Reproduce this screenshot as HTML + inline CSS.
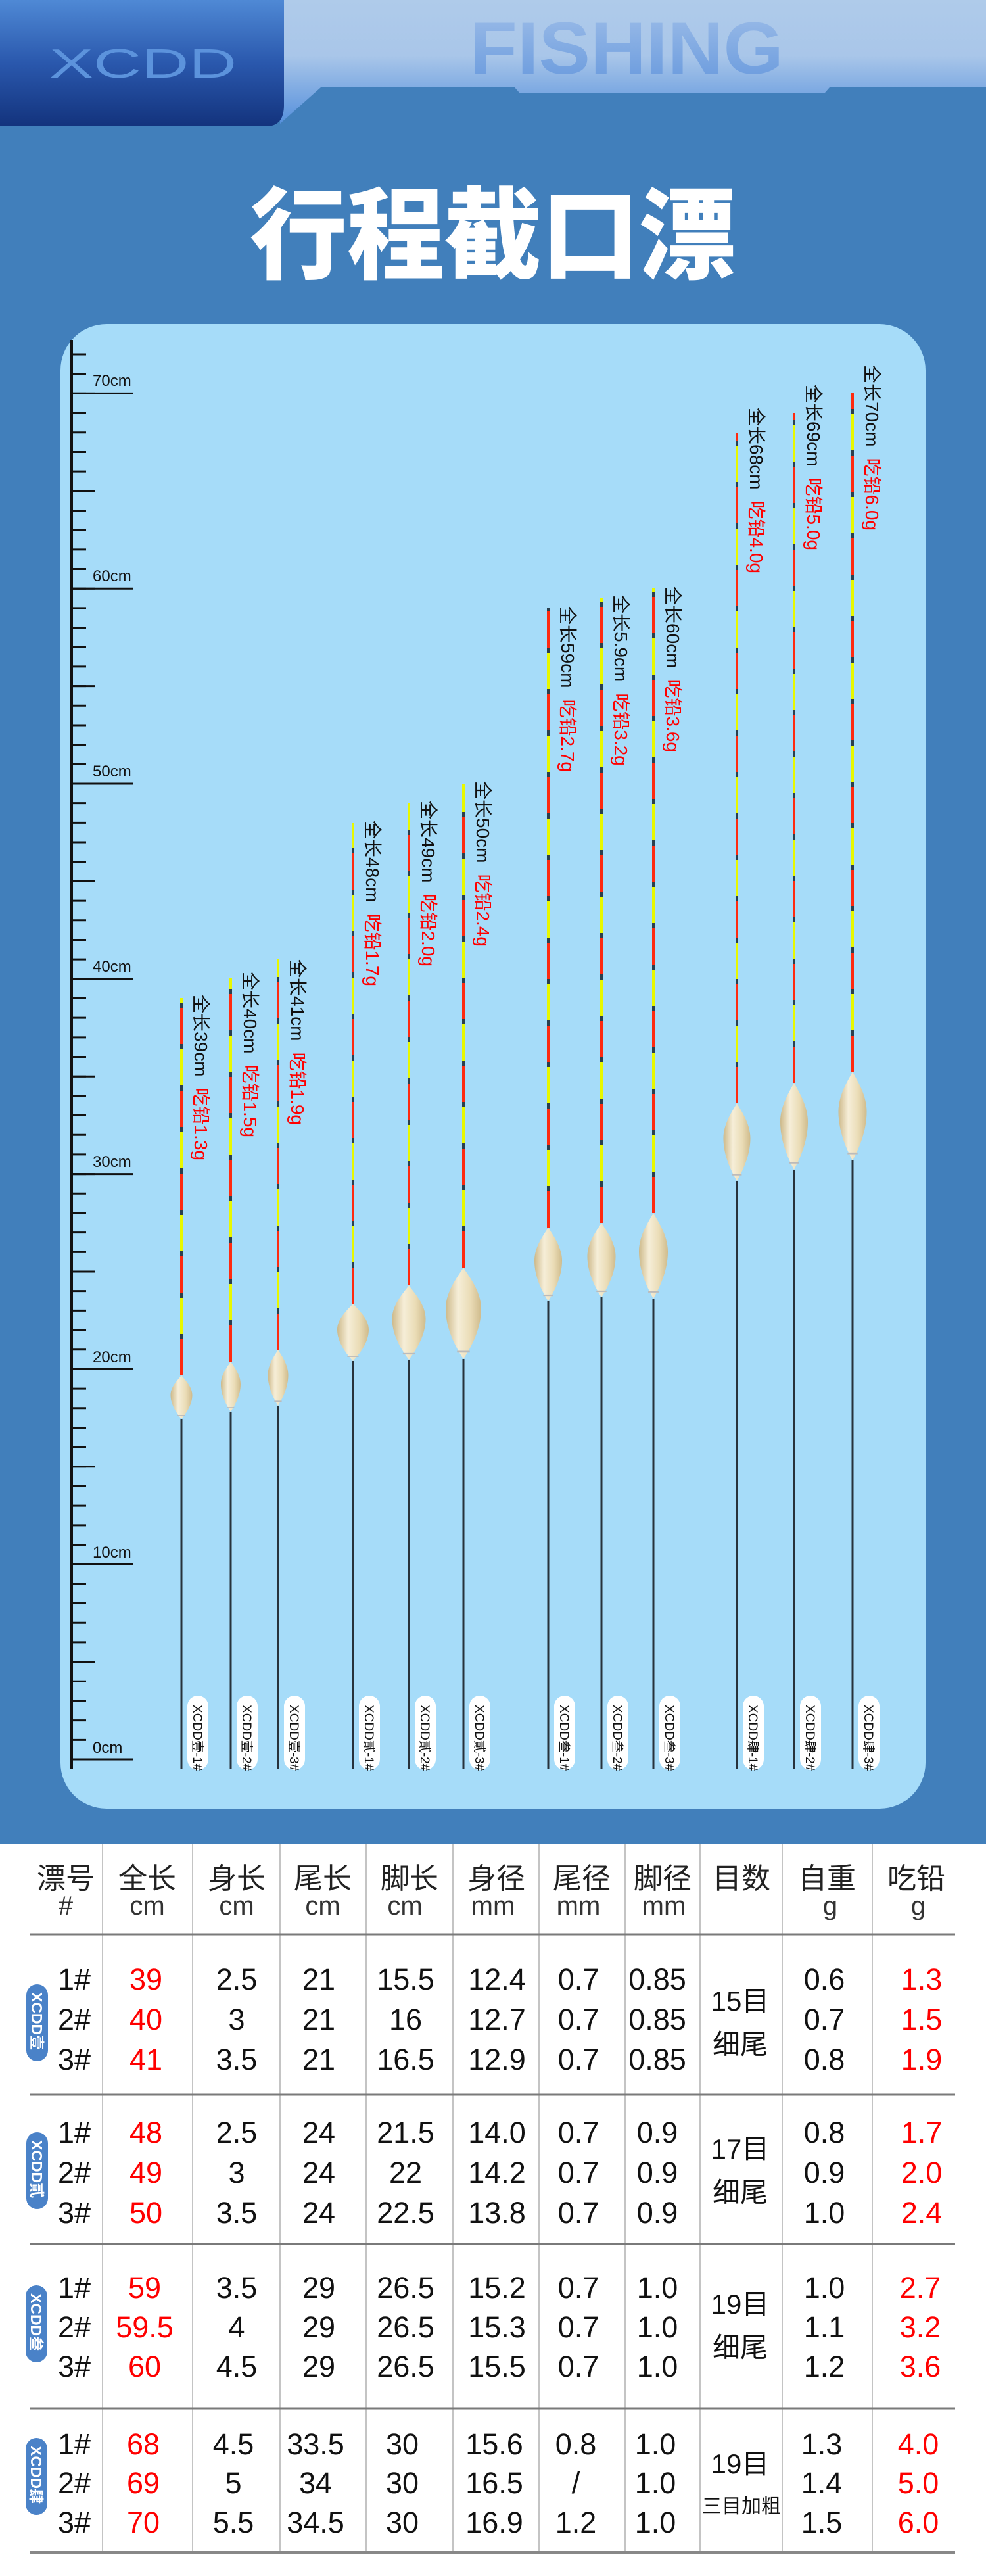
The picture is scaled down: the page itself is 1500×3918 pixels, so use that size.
<!DOCTYPE html>
<html><head><meta charset="utf-8"><style>
html,body{margin:0;padding:0;background:#417fbb;}
svg{display:block;}
.t{font-family:"Liberation Sans","Noto Sans CJK SC",sans-serif;}
</style></head><body>
<svg width="1500" height="3918" viewBox="0 0 1500 3918" xmlns="http://www.w3.org/2000/svg" class="t">
<defs>
<linearGradient id="lb" x1="0" y1="0" x2="0" y2="1"><stop offset="0" stop-color="#afcbea"/><stop offset="0.45" stop-color="#a9c6e9"/><stop offset="1" stop-color="#5690dc"/></linearGradient>
<linearGradient id="db" x1="0" y1="0" x2="0" y2="1"><stop offset="0" stop-color="#4f89d5"/><stop offset="0.5" stop-color="#2a58ad"/><stop offset="1" stop-color="#13337d"/></linearGradient>
<linearGradient id="fg" x1="0" y1="0" x2="0" y2="1"><stop offset="0" stop-color="#9dbde8"/><stop offset="1" stop-color="#6698dd"/></linearGradient>
<linearGradient id="bg" x1="0" y1="0" x2="1" y2="0"><stop offset="0" stop-color="#cdb98a"/><stop offset="0.35" stop-color="#f6eed8"/><stop offset="0.7" stop-color="#eadcb6"/><stop offset="1" stop-color="#cfbb8c"/></linearGradient>
<symbol id="b" viewBox="0 0 100 100" preserveAspectRatio="none">
<path d="M50,0 C62,8 100,25 100,45 C100,68 70,88 50,100 C30,88 0,68 0,45 C0,25 38,8 50,0Z" fill="url(#bg)"/>
<rect x="32" y="91" width="36" height="2" fill="#bbb"/>
</symbol>
</defs>
<rect width="1500" height="3918" fill="#417fbb"/>
<polygon points="430,0 1500,0 1500,133 1262,133 1255,141 790,141 783,133 488,133 426,188" fill="url(#lb)"/>
<path d="M0,0 H432 V160 Q432,192 405,192 H0Z" fill="url(#db)"/>
<text x="75" y="118" font-size="62" fill="#5c93dc" textLength="285" lengthAdjust="spacingAndGlyphs">XCDD</text>
<text x="715" y="112" font-size="112" font-weight="bold" fill="url(#fg)" textLength="477" lengthAdjust="spacingAndGlyphs">FISHING</text>
<text x="750" y="412" font-size="152" font-weight="900" fill="#fff" text-anchor="middle" textLength="740" lengthAdjust="spacingAndGlyphs" style="font-family:'Noto Sans CJK SC',sans-serif">行程截口漂</text>
<rect x="92" y="493" width="1316" height="2258" rx="70" fill="#a6dcf9"/>
<line x1="109" y1="517" x2="109" y2="2690" stroke="#111" stroke-width="4"/>
<line x1="120" y1="2677.5" x2="120" y2="525" stroke="#111" stroke-width="22" stroke-dasharray="3 26.68"/>
<line x1="126.5" y1="2677.5" x2="126.5" y2="525" stroke="#111" stroke-width="35" stroke-dasharray="3 145.4"/>
<line x1="156" y1="2677.5" x2="156" y2="525" stroke="#111" stroke-width="94" stroke-dasharray="3 293.8"/>
<g font-size="24" fill="#111">
<text x="141" y="2666">0cm</text><text x="141" y="2369">10cm</text><text x="141" y="2072">20cm</text><text x="141" y="1775">30cm</text><text x="141" y="1478">40cm</text><text x="141" y="1181">50cm</text><text x="141" y="884">60cm</text><text x="141" y="587">70cm</text>
</g>
<g stroke-width="4" fill="none">
<g stroke="#ff2a10">
<path d="M276,2092V1518M351,2071V1488M423,2053V1458M537,1983V1251M622,1955V1222M705,1928V1192M834,1867V925M915,1860V910M994,1845V895M1121,1678V658M1208,1647V628M1297,1630V598"/>
</g>
<g stroke="#e8f800" stroke-dasharray="0 63 55 8">
<path d="M276,2092V1518M351,2071V1488M423,2053V1458M537,1983V1251M622,1955V1222M705,1928V1192M834,1867V925M915,1860V910M994,1845V895M1121,1678V658M1208,1647V628M1297,1630V598"/>
</g>
<g stroke="#2b3f4d" stroke-dasharray="8 55" stroke-dashoffset="8">
<path d="M276,2092V1518M351,2071V1488M423,2053V1458M537,1983V1251M622,1955V1222M705,1928V1192M834,1867V925M915,1860V910M994,1845V895M1121,1678V658M1208,1647V628M1297,1630V598"/>
</g>
<g stroke="#27323c" stroke-width="3">
<path d="M276,2158V2690M351,2147V2690M423,2138V2690M537,2070V2690M622,2068V2690M705,2067V2690M834,1979V2690M915,1973V2690M994,1975V2690M1121,1796V2690M1208,1779V2690M1297,1765V2690"/>
</g>
</g>
<use href="#b" x="259.5" y="2092" width="33" height="66"/>
<use href="#b" x="336" y="2071" width="30" height="76"/>
<use href="#b" x="407.5" y="2053" width="31" height="85"/>
<use href="#b" x="513" y="1983" width="48" height="87"/>
<use href="#b" x="596.5" y="1955" width="51" height="113"/>
<use href="#b" x="678" y="1928" width="54" height="139"/>
<use href="#b" x="813" y="1867" width="42" height="112"/>
<use href="#b" x="893.5" y="1860" width="43" height="113"/>
<use href="#b" x="972" y="1845" width="44" height="130"/>
<use href="#b" x="1100.5" y="1678" width="41" height="118"/>
<use href="#b" x="1187" y="1647" width="42" height="132"/>
<use href="#b" x="1275.5" y="1630" width="43" height="135"/>
<g font-size="28" fill="#111">
<text transform="translate(296,1513) rotate(90)">全长39cm<tspan fill="#f00" dx="17">吃铅1.3g</tspan></text>
<text transform="translate(371,1478) rotate(90)">全长40cm<tspan fill="#f00" dx="17">吃铅1.5g</tspan></text>
<text transform="translate(443,1459) rotate(90)">全长41cm<tspan fill="#f00" dx="17">吃铅1.9g</tspan></text>
<text transform="translate(557,1248) rotate(90)">全长48cm<tspan fill="#f00" dx="17">吃铅1.7g</tspan></text>
<text transform="translate(642,1218) rotate(90)">全长49cm<tspan fill="#f00" dx="17">吃铅2.0g</tspan></text>
<text transform="translate(725,1188) rotate(90)">全长50cm<tspan fill="#f00" dx="17">吃铅2.4g</tspan></text>
<text transform="translate(854,922) rotate(90)">全长59cm<tspan fill="#f00" dx="17">吃铅2.7g</tspan></text>
<text transform="translate(935,905) rotate(90)">全长5.9cm<tspan fill="#f00" dx="17">吃铅3.2g</tspan></text>
<text transform="translate(1014,892) rotate(90)">全长60cm<tspan fill="#f00" dx="17">吃铅3.6g</tspan></text>
<text transform="translate(1141,620) rotate(90)">全长68cm<tspan fill="#f00" dx="17">吃铅4.0g</tspan></text>
<text transform="translate(1228,585) rotate(90)">全长69cm<tspan fill="#f00" dx="17">吃铅5.0g</tspan></text>
<text transform="translate(1317,555) rotate(90)">全长70cm<tspan fill="#f00" dx="17">吃铅6.0g</tspan></text>
</g>
<g fill="#fff">
<rect x="285" y="2579" width="32" height="113" rx="16"/><rect x="360" y="2579" width="32" height="113" rx="16"/><rect x="432" y="2579" width="32" height="113" rx="16"/>
<rect x="546" y="2579" width="32" height="113" rx="16"/><rect x="631" y="2579" width="32" height="113" rx="16"/><rect x="714" y="2579" width="32" height="113" rx="16"/>
<rect x="843" y="2579" width="32" height="113" rx="16"/><rect x="924" y="2579" width="32" height="113" rx="16"/><rect x="1003" y="2579" width="32" height="113" rx="16"/>
<rect x="1130" y="2579" width="32" height="113" rx="16"/><rect x="1217" y="2579" width="32" height="113" rx="16"/><rect x="1306" y="2579" width="32" height="113" rx="16"/>
</g>
<g font-size="19" fill="#111">
<text transform="translate(294,2593) rotate(90)">XCDD壹-1#</text><text transform="translate(369,2593) rotate(90)">XCDD壹-2#</text><text transform="translate(441,2593) rotate(90)">XCDD壹-3#</text>
<text transform="translate(555,2593) rotate(90)">XCDD貳-1#</text><text transform="translate(640,2593) rotate(90)">XCDD貳-2#</text><text transform="translate(723,2593) rotate(90)">XCDD貳-3#</text>
<text transform="translate(852,2593) rotate(90)">XCDD叁-1#</text><text transform="translate(933,2593) rotate(90)">XCDD叁-2#</text><text transform="translate(1012,2593) rotate(90)">XCDD叁-3#</text>
<text transform="translate(1139,2593) rotate(90)">XCDD肆-1#</text><text transform="translate(1226,2593) rotate(90)">XCDD肆-2#</text><text transform="translate(1315,2593) rotate(90)">XCDD肆-3#</text>
</g>
<rect x="0" y="2805" width="1500" height="1113" fill="#fff"/>
<g stroke="#b0b0b0" stroke-width="1.5">
<path d="M156,2805V3882M293,2805V3882M426,2805V3882M557,2805V3882M689,2805V3882M820,2805V3882M951,2805V3882M1065,2805V3882M1190,2805V3882M1327,2805V3882"/>
</g>
<g stroke="#7a7a7a" stroke-width="3"><path d="M45,2942H1453M45,3186H1453M45,3413H1453M45,3663H1453"/></g>
<path d="M45,3882H1453" stroke="#888" stroke-width="4"/>
<g font-size="44" fill="#222" text-anchor="middle">
<text x="100" y="2872">漂号</text><text x="224" y="2872">全长</text><text x="360" y="2872">身长</text><text x="491" y="2872">尾长</text><text x="623" y="2872">脚长</text><text x="755" y="2872">身径</text><text x="885" y="2872">尾径</text><text x="1008" y="2872">脚径</text><text x="1128" y="2872">目数</text><text x="1258" y="2872">自重</text><text x="1394" y="2872">吃铅</text>
</g>
<g font-size="40" fill="#333" text-anchor="middle">
<text x="100" y="2912">#</text><text x="224" y="2912">cm</text><text x="360" y="2912">cm</text><text x="491" y="2912">cm</text><text x="616" y="2912">cm</text><text x="750" y="2912">mm</text><text x="880" y="2912">mm</text><text x="1010" y="2912">mm</text><text x="1263" y="2912">g</text><text x="1397" y="2912">g</text>
</g>
<g fill="#4a82c8">
<rect x="40" y="3018" width="33" height="117" rx="16.5"/><rect x="40" y="3243" width="33" height="117" rx="16.5"/><rect x="39" y="3476" width="33" height="117" rx="16.5"/><rect x="39" y="3708" width="33" height="117" rx="16.5"/>
</g>
<g font-size="23" font-weight="bold" fill="#fff">
<text transform="translate(48,3030) rotate(90)">XCDD壹</text><text transform="translate(48,3255) rotate(90)">XCDD貳</text><text transform="translate(47,3488) rotate(90)">XCDD叁</text><text transform="translate(47,3720) rotate(90)">XCDD肆</text>
</g>
<g font-size="45" fill="#111" text-anchor="middle">
<text x="113" y="3026">1#</text><text x="360" y="3026">2.5</text><text x="485" y="3026">21</text><text x="617" y="3026">15.5</text><text x="756" y="3026">12.4</text><text x="880" y="3026">0.7</text><text x="1000" y="3026">0.85</text><text x="1254" y="3026">0.6</text>
<text x="113" y="3087">2#</text><text x="360" y="3087">3</text><text x="485" y="3087">21</text><text x="617" y="3087">16</text><text x="756" y="3087">12.7</text><text x="880" y="3087">0.7</text><text x="1000" y="3087">0.85</text><text x="1254" y="3087">0.7</text>
<text x="113" y="3148">3#</text><text x="360" y="3148">3.5</text><text x="485" y="3148">21</text><text x="617" y="3148">16.5</text><text x="756" y="3148">12.9</text><text x="880" y="3148">0.7</text><text x="1000" y="3148">0.85</text><text x="1254" y="3148">0.8</text>
<text x="113" y="3259">1#</text><text x="360" y="3259">2.5</text><text x="485" y="3259">24</text><text x="617" y="3259">21.5</text><text x="756" y="3259">14.0</text><text x="880" y="3259">0.7</text><text x="1000" y="3259">0.9</text><text x="1254" y="3259">0.8</text>
<text x="113" y="3320">2#</text><text x="360" y="3320">3</text><text x="485" y="3320">24</text><text x="617" y="3320">22</text><text x="756" y="3320">14.2</text><text x="880" y="3320">0.7</text><text x="1000" y="3320">0.9</text><text x="1254" y="3320">0.9</text>
<text x="113" y="3381">3#</text><text x="360" y="3381">3.5</text><text x="485" y="3381">24</text><text x="617" y="3381">22.5</text><text x="756" y="3381">13.8</text><text x="880" y="3381">0.7</text><text x="1000" y="3381">0.9</text><text x="1254" y="3381">1.0</text>
<text x="113" y="3495">1#</text><text x="360" y="3495">3.5</text><text x="485" y="3495">29</text><text x="617" y="3495">26.5</text><text x="756" y="3495">15.2</text><text x="880" y="3495">0.7</text><text x="1000" y="3495">1.0</text><text x="1254" y="3495">1.0</text>
<text x="113" y="3555">2#</text><text x="360" y="3555">4</text><text x="485" y="3555">29</text><text x="617" y="3555">26.5</text><text x="756" y="3555">15.3</text><text x="880" y="3555">0.7</text><text x="1000" y="3555">1.0</text><text x="1254" y="3555">1.1</text>
<text x="113" y="3615">3#</text><text x="360" y="3615">4.5</text><text x="485" y="3615">29</text><text x="617" y="3615">26.5</text><text x="756" y="3615">15.5</text><text x="880" y="3615">0.7</text><text x="1000" y="3615">1.0</text><text x="1254" y="3615">1.2</text>
<text x="113" y="3733">1#</text><text x="355" y="3733">4.5</text><text x="480" y="3733">33.5</text><text x="612" y="3733">30</text><text x="752" y="3733">15.6</text><text x="876" y="3733">0.8</text><text x="997" y="3733">1.0</text><text x="1250" y="3733">1.3</text>
<text x="113" y="3792">2#</text><text x="355" y="3792">5</text><text x="480" y="3792">34</text><text x="612" y="3792">30</text><text x="752" y="3792">16.5</text><text x="876" y="3792">/</text><text x="997" y="3792">1.0</text><text x="1250" y="3792">1.4</text>
<text x="113" y="3852">3#</text><text x="355" y="3852">5.5</text><text x="480" y="3852">34.5</text><text x="612" y="3852">30</text><text x="752" y="3852">16.9</text><text x="876" y="3852">1.2</text><text x="997" y="3852">1.0</text><text x="1250" y="3852">1.5</text>
</g>
<g font-size="45" fill="#f00" text-anchor="middle">
<text x="222" y="3026">39</text><text x="1402" y="3026">1.3</text>
<text x="222" y="3087">40</text><text x="1402" y="3087">1.5</text>
<text x="222" y="3148">41</text><text x="1402" y="3148">1.9</text>
<text x="222" y="3259">48</text><text x="1402" y="3259">1.7</text>
<text x="222" y="3320">49</text><text x="1402" y="3320">2.0</text>
<text x="222" y="3381">50</text><text x="1402" y="3381">2.4</text>
<text x="220" y="3495">59</text><text x="1400" y="3495">2.7</text>
<text x="220" y="3555">59.5</text><text x="1400" y="3555">3.2</text>
<text x="220" y="3615">60</text><text x="1400" y="3615">3.6</text>
<text x="218" y="3733">68</text><text x="1397" y="3733">4.0</text>
<text x="218" y="3792">69</text><text x="1397" y="3792">5.0</text>
<text x="218" y="3852">70</text><text x="1397" y="3852">6.0</text>
</g>
<g font-size="42" fill="#111" text-anchor="middle">
<text x="1126" y="3058">15目</text><text x="1126" y="3124">细尾</text>
<text x="1126" y="3283">17目</text><text x="1126" y="3349">细尾</text>
<text x="1126" y="3519">19目</text><text x="1126" y="3585">细尾</text>
<text x="1126" y="3762">19目</text>
</g>
<text x="1128" y="3822" font-size="30" fill="#111" text-anchor="middle">三目加粗</text>
</svg>
</body></html>
